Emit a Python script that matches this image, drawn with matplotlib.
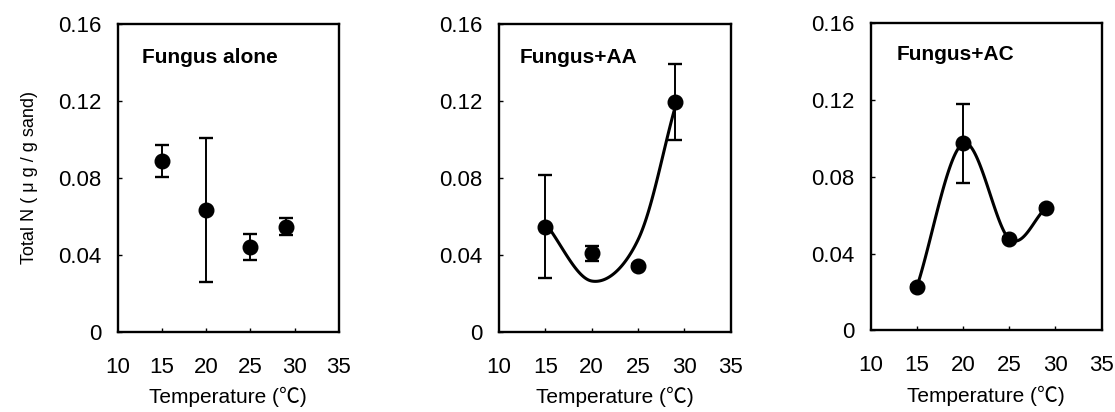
import numpy as np
import matplotlib
matplotlib.use("Agg")
import matplotlib.pyplot as plt

plt.rcParams['font.family'] = ['Liberation Sans', 'Noto Sans CJK JP', 'DejaVu Sans']

# Data
temps = [15, 20, 25, 29]

alone_mean = [0.0888, 0.0634, 0.0443, 0.0547]
alone_err = [0.0085, 0.0375, 0.0068, 0.0044]

aa_mean = [0.0547, 0.0409, 0.0345, 0.1193]
aa_err = [0.0267, 0.0040, 0.0010, 0.0197]
aa_curve = [0.0565, 0.0265, 0.0480, 0.1170]   # trend curve knots

ac_mean = [0.0228, 0.0975, 0.0477, 0.0640]
ac_err = [0.0010, 0.0205, 0.0010, 0.0010]

titles = ["Fungus alone", "Fungus+AA", "Fungus+AC"]
xticks = [10, 15, 20, 25, 30, 35]
yticks = [0, 0.04, 0.08, 0.12, 0.16]
ytick_labels = ["0", "0.04", "0.08", "0.12", "0.16"]


def smooth(xs, ys, n=40):
    """Catmull-Rom spline through the knots, similar to a spreadsheet smoothed line."""
    xs = np.asarray(xs, float)
    ys = np.asarray(ys, float)
    px = np.concatenate([[2 * xs[0] - xs[1]], xs, [2 * xs[-1] - xs[-2]]])
    py = np.concatenate([[2 * ys[0] - ys[1]], ys, [2 * ys[-1] - ys[-2]]])
    outx, outy = [], []
    t = np.linspace(0, 1, n)
    for i in range(1, len(px) - 2):
        for p, out in ((px, outx), (py, outy)):
            p0, p1, p2, p3 = p[i - 1], p[i], p[i + 1], p[i + 2]
            out.extend(0.5 * (2 * p1 + (-p0 + p2) * t
                              + (2 * p0 - 5 * p1 + 4 * p2 - p3) * t ** 2
                              + (-p0 + 3 * p1 - 3 * p2 + p3) * t ** 3))
    return outx, outy


fig = plt.figure(figsize=(11.15, 4.12), dpi=100)
rects = [[0.1058, 0.194, 0.198, 0.748],
         [0.4475, 0.194, 0.208, 0.748],
         [0.781, 0.198, 0.207, 0.745]]
title_pos = [(0.11, 0.89), (0.09, 0.89), (0.11, 0.90)]
means = [alone_mean, aa_mean, ac_mean]
errs = [alone_err, aa_err, ac_err]
curves = [None, aa_curve, ac_mean]

for i in range(3):
    ax = fig.add_axes(rects[i])
    if curves[i] is not None:
        cx, cy = smooth(temps, curves[i])
        ax.plot(cx, cy, color='black', lw=2.2, zorder=2)
    ax.errorbar(temps, means[i], yerr=errs[i], fmt='o', color='black',
                ms=10.5, elinewidth=1.4, capsize=4.7, capthick=1.7, zorder=3)
    ax.set_xlim(10, 35)
    ax.set_ylim(0, 0.16)
    ax.set_xticks([15, 20, 25, 30])
    ax.set_xticklabels([])
    ax.set_yticks(yticks)
    ax.set_yticklabels(ytick_labels)
    ax.tick_params(axis='x', direction='in', length=3, width=1)
    ax.tick_params(axis='y', direction='in', length=3, width=1, pad=12, labelsize=16)
    for xt in xticks:
        ax.annotate(str(xt), xy=(xt, 0), xycoords=('data', 'axes fraction'),
                    xytext=(0, -18), textcoords='offset points',
                    ha='center', va='top', fontsize=16)
    for s in ax.spines.values():
        s.set_linewidth(1.7)
    ax.text(title_pos[i][0], title_pos[i][1], titles[i], transform=ax.transAxes,
            fontsize=15, fontweight='bold', ha='left', va='center')
    ax.set_xlabel("Temperature (\u2103)", fontsize=15, labelpad=36)
    if i == 0:
        ax.set_ylabel("Total N ( \u03bc g / g sand)", fontsize=13, labelpad=14)

fig.savefig("out.png", dpi=100)
